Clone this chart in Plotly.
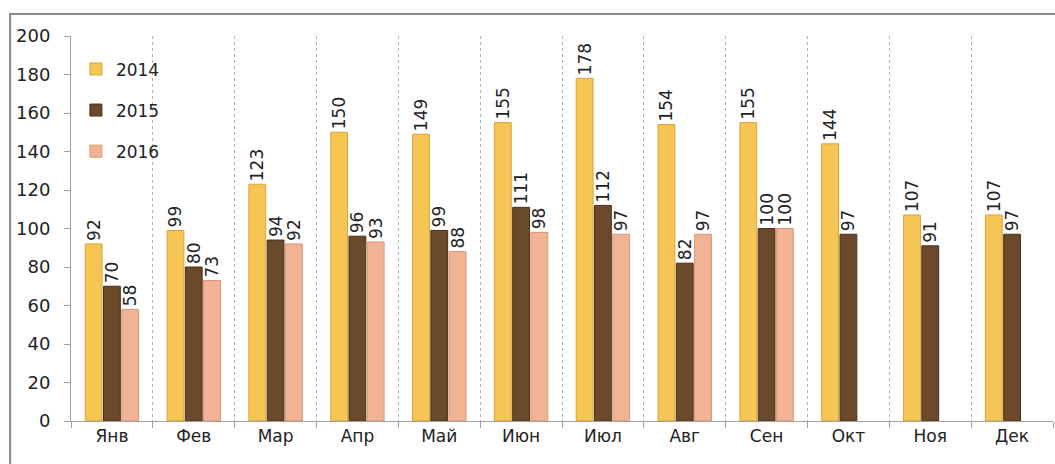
import plotly.graph_objects as go

months = ["Янв", "Фев", "Мар", "Апр", "Май", "Июн", "Июл", "Авг", "Сен", "Окт", "Ноя", "Дек"]
v2014 = [92, 99, 123, 150, 149, 155, 178, 154, 155, 144, 107, 107]
v2015 = [70, 80, 94, 96, 99, 111, 112, 82, 100, 97, 91, 97]
v2016 = [58, 73, 92, 93, 88, 98, 97, 97, 100, None, None, None]
y_ticks = [0, 20, 40, 60, 80, 100, 120, 140, 160, 180, 200]

FONT = "DejaVu Sans"
series = [
    ("2014", v2014, "#F7C553", "#D9A23A"),
    ("2015", v2015, "#6B4A2B", "#4A3019"),
    ("2016", v2016, "#F2B395", "#D9957A"),
]

fig = go.Figure()
for i, (name, vals, col, edge) in enumerate(series):
    fig.add_trace(go.Bar(
        x=months, y=vals, name=name,
        marker=dict(color=col, line=dict(color=edge, width=1)),
        text=[("" if v is None else str(v)) for v in vals],
        textposition="outside", textangle=-90, constraintext="none",
        textfont=dict(family=FONT, size=17, color="#222"),
        cliponaxis=False, legendgroup=name,
    ))

fig.update_layout(
    width=1055, height=464,
    barmode="group", bargap=0.33, bargroupgap=0.08,
    plot_bgcolor="white", paper_bgcolor="white",
    margin=dict(l=71, r=2, t=36, b=43, autoexpand=False),
    font=dict(family=FONT, size=17, color="#222"),
    showlegend=True,
    legend=dict(x=0.005, y=0.96, xanchor="left", yanchor="top",
                font=dict(family=FONT, size=17, color="#222"),
                tracegroupgap=16, bgcolor="rgba(0,0,0,0)",
                itemwidth=30),
)
fig.update_xaxes(
    type="category", tickson="boundaries", automargin=False,
    showgrid=True, gridcolor="#B0B0B0", griddash="dot", gridwidth=1,
    showline=True, linecolor="#A0A0A0", linewidth=1,
    ticks="outside", ticklen=6, tickcolor="#A0A0A0",
    tickfont=dict(family=FONT, size=17, color="#222"),
)
fig.update_yaxes(
    range=[0, 200], tickvals=y_ticks, automargin=False,
    showgrid=False, zeroline=False,
    showline=True, linecolor="#A0A0A0", linewidth=1,
    ticks="outside", ticklen=6, tickcolor="#A0A0A0", ticklabelstandoff=10,
    tickfont=dict(family=FONT, size=18, color="#222"),
)
# outer chart border
fig.add_shape(type="rect", xref="paper", yref="paper",
              x0=-0.062, x1=1.01, y0=-0.2, y1=1.057,
              line=dict(color="#8A8A8A", width=2), layer="above")

fig.write_html("out.html", config={"displayModeBar": False},
               post_script="document.body.style.margin='0';document.body.style.overflow='hidden';")
